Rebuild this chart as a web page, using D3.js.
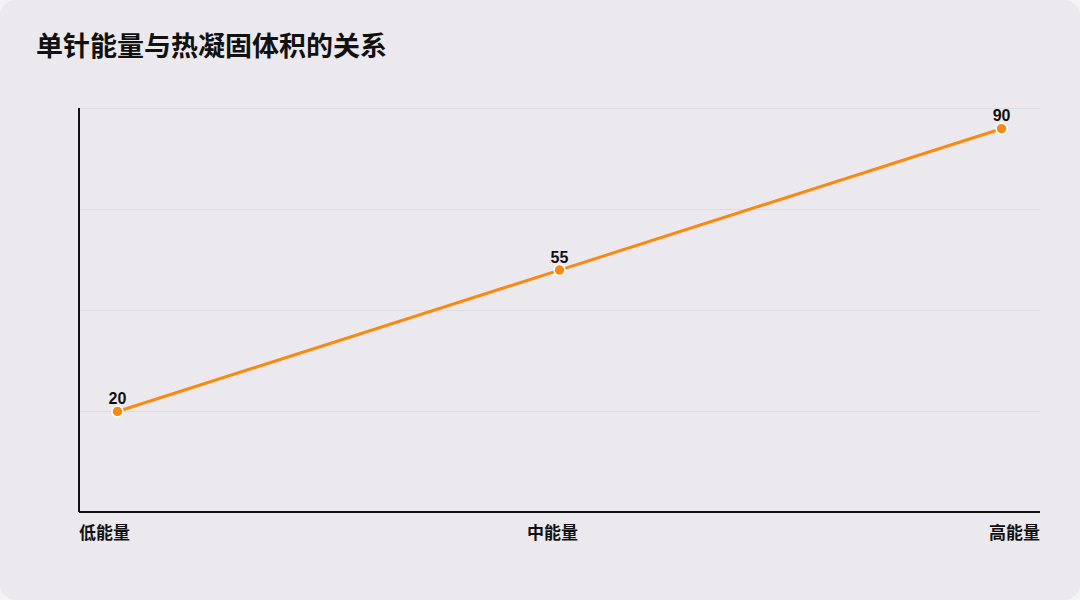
<!DOCTYPE html>
<html>
<head>
<meta charset="utf-8">
<script src="https://cdn.jsdelivr.net/npm/d3@7"></script>
<style>
  html, body { margin: 0; padding: 0; background: #f3f2f5; }
  svg { display: block; font-family: "Noto Sans CJK SC", "Noto Sans", sans-serif; }
</style>
</head>
<body>
<div id="chart"></div>
<script>
var title = "单针能量与热凝固体积的关系";
var categories = ["低能量", "中能量", "高能量"];
var values = [20, 55, 90];
var y_domain = [-5, 95];
var y_ticks = [-5, 20, 45, 70, 95];

var W = 1080, H = 600;
var margin = {top: 108, right: 40, bottom: 88, left: 79};
var width = W - margin.left - margin.right;
var height = H - margin.top - margin.bottom;

var svg = d3.select("#chart")
  .append("svg")
  .attr("width", W)
  .attr("height", H);

svg.append("rect")
  .attr("width", W)
  .attr("height", H)
  .attr("rx", 16)
  .style("fill", "#ebe9ee");

svg.append("text")
  .attr("x", 36)
  .attr("y", 56)
  .text(title)
  .style("font-size", "27px")
  .style("font-weight", "bold")
  .style("fill", "#111");

var g = svg.append("g")
  .attr("transform", "translate(" + margin.left + "," + margin.top + ")");

var x = d3.scalePoint()
  .domain(categories)
  .range([0, width])
  .padding(0.087);

var y = d3.scaleLinear()
  .domain(y_domain)
  .range([height, 0]);

// grid
g.selectAll(".grid")
  .data(y_ticks.slice(1))
  .enter().append("line")
  .attr("x1", 0)
  .attr("x2", width)
  .attr("y1", d => y(d) + 0.5)
  .attr("y2", d => y(d) + 0.5)
  .style("stroke", "#dddbe0")
  .style("stroke-width", 1);

// axes
g.append("line")
  .attr("x1", 0).attr("x2", 0)
  .attr("y1", 0).attr("y2", height)
  .style("stroke", "#111")
  .style("stroke-width", 2);
g.append("line")
  .attr("x1", 0).attr("x2", width)
  .attr("y1", height).attr("y2", height)
  .style("stroke", "#111")
  .style("stroke-width", 2);

// x labels: first at left edge, last at right edge
g.selectAll(".xlab")
  .data(categories)
  .enter().append("text")
  .attr("x", (d, i) => i == 0 ? 0 : (i == categories.length - 1 ? width : x(d)))
  .attr("y", height + 27)
  .attr("dx", (d, i) => (i > 0 && i < categories.length - 1) ? -7 : 0)
  .attr("text-anchor", (d, i) => i == 0 ? "start" : (i == categories.length - 1 ? "end" : "middle"))
  .text(d => d)
  .style("font-size", "17px")
  .style("font-weight", "bold")
  .style("fill", "#111");

var data = categories.map((c, i) => ({cat: c, v: values[i]}));

g.append("path")
  .datum(data)
  .attr("d", d3.line().x(d => x(d.cat)).y(d => y(d.v) + 0.5))
  .style("fill", "none")
  .style("stroke", "#f78a12")
  .style("stroke-width", 3);

g.selectAll(".pt")
  .data(data)
  .enter().append("circle")
  .attr("cx", d => x(d.cat))
  .attr("cy", d => y(d.v) + 0.5)
  .attr("r", 5.5)
  .style("fill", "#f78a12")
  .style("stroke", "#fff")
  .style("stroke-width", 1.5);

g.selectAll(".vlab")
  .data(data)
  .enter().append("text")
  .attr("x", d => x(d.cat))
  .attr("y", d => y(d.v) - 7)
  .attr("text-anchor", "middle")
  .text(d => d.v)
  .style("font-family", "'Liberation Sans', Arial, sans-serif")
  .style("font-size", "16px")
  .style("font-weight", "bold")
  .style("fill", "#111");
</script>
</body>
</html>
